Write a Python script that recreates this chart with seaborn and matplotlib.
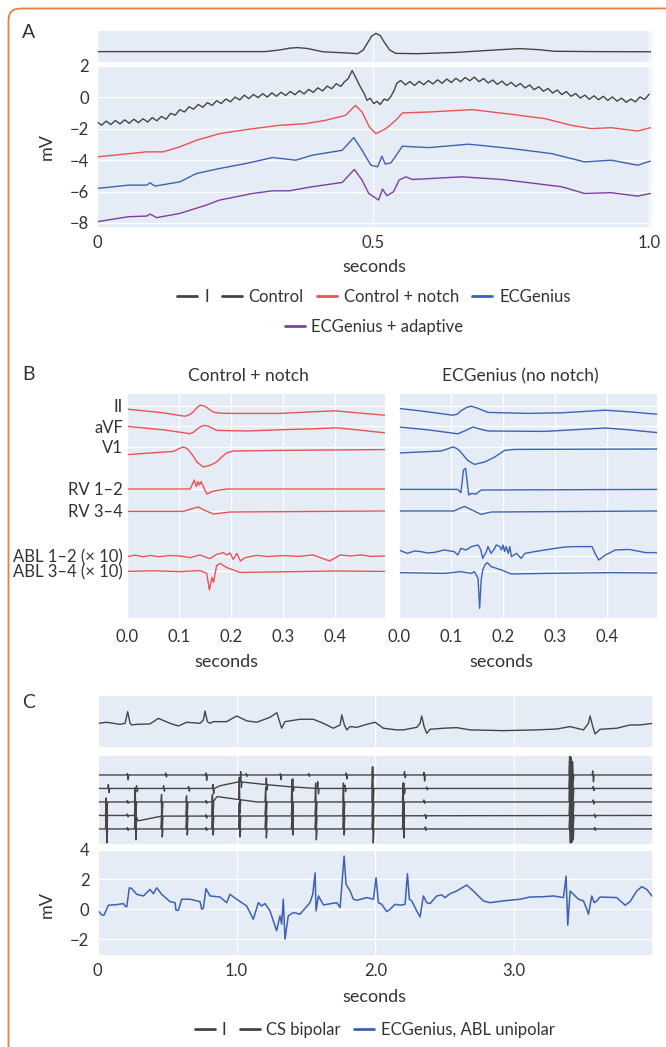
import numpy as np
import matplotlib.pyplot as plt
import seaborn as sns
from matplotlib.lines import Line2D
from matplotlib.patches import FancyBboxPatch

sns.set_theme(style="darkgrid", rc={"axes.facecolor": "#e5ecf6", "grid.color": "white",
                                    "grid.linewidth": 0.9, "xtick.major.pad": 5, "ytick.major.pad": 6})
plt.rcParams['font.family'] = ['Lato', 'DejaVu Sans']
TXT = '#333333'
plt.rcParams['text.color'] = TXT
plt.rcParams['xtick.color'] = TXT
plt.rcParams['ytick.color'] = TXT

GRAY, RED, BLUE, PURPLE = '#454545', '#ec5252', '#3d62b4', '#7d3fa2'

# ---------------- panel A : 1 s, mV ----------------
lead_i_a_t = [0, 0.2, 0.304, 0.33, 0.35, 0.363, 0.38, 0.409, 0.45, 0.472, 0.482, 0.49, 0.497,
              0.505, 0.513, 0.52, 0.53, 0.541, 0.58, 0.65, 0.72, 0.765, 0.8, 0.83, 0.9, 1.005]
lead_i_a_mv = [0, 0, 0, 0.1, 0.22, 0.25, 0.2, -0.01, -0.08, -0.13, 0.1, 0.55, 0.95,
               1.14, 1.0, 0.6, 0.1, -0.11, -0.13, -0.05, 0.1, 0.19, 0.12, 0.02, 0.0, -0.01]

# control has 60 Hz hum, sampled at 120 values / s outside the QRS
CONTROL_FS = 120
control_pre_mv = [-1.55, -1.77, -1.51, -1.73, -1.47, -1.69, -1.43, -1.65, -1.39, -1.61,
                  -1.36, -1.57, -1.29, -1.49, -1.21, -1.39, -1.02, -1.13, -0.78, -0.93,
                  -0.60, -0.75, -0.45, -0.63, -0.33, -0.51, -0.21, -0.39, -0.10, -0.28,
                  0.02, -0.16, 0.14, -0.08, 0.19, -0.02, 0.24, 0.02, 0.29, 0.07,
                  0.33, 0.12, 0.38, 0.17, 0.43, 0.22, 0.51, 0.32, 0.61, 0.41,
                  0.72, 0.55, 0.87, 0.70]
control_qrs_t = [0.447, 0.455, 0.462, 0.468, 0.477, 0.483, 0.489, 0.495, 0.501, 0.507,
                 0.513, 0.52, 0.526, 0.532, 0.538, 0.543]
control_qrs_mv = [0.95, 1.2, 1.71, 1.3, 0.66, 0.3, -0.19, -0.05, -0.4, -0.25,
                  -0.45, -0.1, -0.2, 0.05, 0.44, 0.9]
control_post_start = 66
control_post_mv = [1.08, 0.80, 1.01, 0.76, 1.02, 0.81, 1.07, 0.86, 1.12, 0.90,
                   1.17, 0.95, 1.22, 1.00, 1.27, 1.06, 1.29, 1.00, 1.20, 0.92,
                   1.11, 0.83, 1.04, 0.76, 0.96, 0.69, 0.89, 0.60, 0.79, 0.49,
                   0.68, 0.39, 0.57, 0.28, 0.47, 0.18, 0.37, 0.07, 0.25, -0.04,
                   0.14, -0.12, 0.10, -0.15, 0.07, -0.19, 0.03, -0.24, -0.04, -0.31,
                   -0.11, -0.28, 0.03, -0.13, 0.21]

notch_t = [0, 0.09, 0.12, 0.15, 0.18, 0.222, 0.27, 0.33, 0.378, 0.414, 0.45, 0.468, 0.48,
           0.493, 0.505, 0.523, 0.541, 0.553, 0.601, 0.679, 0.751, 0.811, 0.859, 0.895,
           0.931, 0.979, 1.002]
notch_mv = [-3.79, -3.47, -3.47, -3.15, -2.73, -2.31, -2.05, -1.78, -1.67, -1.46, -1.14,
            -0.51, -0.93, -1.88, -2.31, -1.99, -1.46, -0.99, -0.93, -0.78, -1.08, -1.35,
            -1.78, -1.99, -1.93, -2.14, -1.93]

ecg_t = [0, 0.057, 0.09, 0.096, 0.105, 0.15, 0.18, 0.222, 0.27, 0.318, 0.36, 0.39, 0.444,
         0.465, 0.48, 0.496, 0.508, 0.516, 0.522, 0.532, 0.538, 0.553, 0.601, 0.673, 0.751,
         0.823, 0.883, 0.931, 0.979, 1.002]
ecg_mv = [-5.8, -5.59, -5.59, -5.44, -5.65, -5.38, -4.85, -4.53, -4.21, -3.83, -4.0, -3.68,
          -3.37, -2.56, -3.37, -4.32, -4.42, -3.75, -4.25, -4.17, -3.89, -3.11, -3.2, -2.98,
          -3.26, -3.58, -4.11, -4.0, -4.32, -4.06]

adapt_t = [0, 0.057, 0.09, 0.096, 0.108, 0.15, 0.198, 0.222, 0.282, 0.318, 0.348, 0.39,
           0.444, 0.466, 0.48, 0.492, 0.51, 0.517, 0.525, 0.537, 0.547, 0.559, 0.571, 0.661,
           0.733, 0.769, 0.841, 0.883, 0.931, 0.979, 1.002]
adapt_mv = [-7.92, -7.6, -7.56, -7.43, -7.66, -7.39, -6.86, -6.54, -6.12, -5.95, -5.95,
            -5.69, -5.42, -4.59, -5.27, -6.12, -6.54, -5.84, -6.26, -6.01, -5.27, -5.06,
            -5.23, -5.06, -5.23, -5.38, -5.69, -6.12, -6.07, -6.29, -6.12]

a_names = ['I', 'Control', 'Control + notch', 'ECGenius', 'ECGenius + adaptive']
a_colors = [GRAY, GRAY, RED, BLUE, PURPLE]

# ---------------- panel B : 0.5 s, stacked channels ----------------
b_channels = ['II', 'aVF', 'V1', 'RV 1–2', 'RV 3–4', 'ABL 1–2 (× 10)', 'ABL 3–4 (× 10)']
b_offsets = [-0.64, -1.67, -2.7, -4.8, -5.9, -8.15, -8.9]

red_ii_t = [0, 0.069, 0.1, 0.111, 0.12, 0.127, 0.134, 0.14, 0.147, 0.153, 0.16, 0.166, 0.18,
            0.198, 0.294, 0.358, 0.4, 0.442, 0.496]
red_ii = [-0.17, -0.35, -0.48, -0.52, -0.45, -0.3, -0.1, 0.03, 0.0, -0.08, -0.22, -0.32, -0.37,
          -0.38, -0.38, -0.3, -0.25, -0.35, -0.47]
red_avf_t = [0, 0.069, 0.112, 0.12, 0.127, 0.133, 0.14, 0.148, 0.155, 0.162, 0.172, 0.23,
             0.294, 0.358, 0.403, 0.442, 0.496]
red_avf = [0, -0.17, -0.33, -0.37, -0.3, -0.17, -0.03, 0.05, 0.02, -0.07, -0.2, -0.23,
           -0.17, -0.12, -0.07, -0.17, -0.32]
red_v1_t = [0, 0.089, 0.1, 0.108, 0.115, 0.121, 0.128, 0.134, 0.146, 0.159, 0.172, 0.182,
            0.191, 0.204, 0.294, 0.496]
red_v1 = [-0.38, -0.22, -0.08, 0, -0.08, -0.25, -0.5, -0.75, -1.0, -0.92, -0.75, -0.5,
          -0.3, -0.2, -0.17, -0.13]
red_rv12_t = [0, 0.121, 0.129, 0.133, 0.136, 0.139, 0.142, 0.153, 0.166, 0.191, 0.496]
red_rv12 = [0, 0, 0.45, 0.12, 0.37, 0.2, 0.37, -0.25, -0.1, 0, 0]
red_rv34_t = [0, 0.108, 0.125, 0.137, 0.15, 0.166, 0.198, 0.496]
red_rv34 = [-0.02, -0.02, 0.12, 0.2, 0.02, -0.15, -0.05, 0]
red_abl12_t = [0, 0.015, 0.03, 0.045, 0.06, 0.08, 0.101, 0.121, 0.14, 0.159, 0.172, 0.185,
               0.191, 0.198, 0.204, 0.211, 0.218, 0.227, 0.249, 0.27, 0.3, 0.33, 0.358,
               0.39, 0.41, 0.43, 0.45, 0.47, 0.496]
red_abl12 = [-0.03, 0.04, -0.04, 0.03, -0.04, 0.02, 0, -0.08, 0.05, -0.13, 0.08, 0.17,
             0.05, 0.15, -0.17, 0.13, -0.25, -0.08, 0.03, -0.03, 0.02, -0.02, 0.05,
             -0.25, 0.05, 0.0, 0.05, -0.02, 0]
red_abl34_t = [0, 0.05, 0.101, 0.14, 0.153, 0.158, 0.163, 0.166, 0.172, 0.179, 0.191, 0.217,
               0.3, 0.4, 0.496]
red_abl34 = [-0.02, 0.01, -0.03, 0.02, -0.12, -0.95, -0.32, -0.57, 0.27, 0.38, 0.18, -0.07,
             -0.04, 0.0, -0.02]

blue_ii_t = [0, 0.055, 0.103, 0.112, 0.119, 0.13, 0.139, 0.152, 0.171, 0.248, 0.313, 0.397,
             0.442, 0.5]
blue_ii = [-0.13, -0.3, -0.47, -0.42, -0.25, -0.08, -0.02, -0.13, -0.33, -0.38, -0.35, -0.22,
           -0.3, -0.43]
blue_avf_t = [0, 0.055, 0.113, 0.126, 0.142, 0.158, 0.171, 0.281, 0.397, 0.442, 0.5]
blue_avf = [-0.03, -0.17, -0.37, -0.23, -0.03, -0.15, -0.23, -0.25, -0.08, -0.17, -0.32]
blue_v1_t = [0, 0.081, 0.095, 0.103, 0.11, 0.116, 0.124, 0.132, 0.145, 0.165, 0.184, 0.203,
             0.223, 0.5]
blue_v1 = [-0.3, -0.2, -0.08, 0, -0.06, -0.17, -0.42, -0.67, -0.87, -0.75, -0.5, -0.17,
           -0.12, -0.1]
blue_rv12_t = [0, 0.113, 0.119, 0.124, 0.128, 0.13, 0.134, 0.139, 0.148, 0.158, 0.5]
blue_rv12 = [-0.02, -0.02, -0.18, 0.95, 1.03, 0.62, -0.3, -0.22, -0.25, -0.05, -0.02]
blue_rv34_t = [0, 0.106, 0.118, 0.126, 0.142, 0.158, 0.177, 0.5]
blue_rv34 = [0, 0, 0.15, 0.23, 0.03, -0.17, -0.05, 0]
blue_abl12_t = [0, 0.016, 0.03, 0.042, 0.055, 0.068, 0.087, 0.106, 0.113, 0.119, 0.129, 0.139,
                0.152, 0.157, 0.161, 0.168, 0.171, 0.177, 0.184, 0.187, 0.194, 0.197, 0.2,
                0.203, 0.206, 0.21, 0.213, 0.216, 0.226, 0.235, 0.242, 0.261, 0.28, 0.3,
                0.32, 0.339, 0.371, 0.377, 0.384, 0.397, 0.416, 0.442, 0.474, 0.5]
blue_abl12 = [0.3, 0.13, 0.25, 0.22, 0.15, 0.18, 0.3, 0.22, 0.05, 0.38, 0.3, 0.47,
              0.55, 0.33, -0.12, 0.22, 0.47, 0.13, 0.38, 0.55, 0.47, 0.3, 0.55,
              0.22, 0.47, 0.13, 0.47, -0.03, 0.13, -0.12, 0.13, 0.22, 0.3, 0.38,
              0.45, 0.47, 0.47, 0.13, -0.2, 0.05, 0.3, 0.33, 0.17, 0.17]
blue_abl34_t = [0, 0.087, 0.119, 0.139, 0.145, 0.152, 0.155, 0.158, 0.161, 0.165, 0.17,
                0.177, 0.197, 0.216, 0.281, 0.41, 0.5]
blue_abl34 = [-0.08, -0.12, -0.03, -0.12, -0.03, -0.37, -1.87, -0.45, 0.05, 0.3, 0.42,
              0.22, 0.05, -0.15, -0.12, -0.08, -0.1]

red_traces = [(red_ii_t, red_ii), (red_avf_t, red_avf), (red_v1_t, red_v1),
              (red_rv12_t, red_rv12), (red_rv34_t, red_rv34),
              (red_abl12_t, red_abl12), (red_abl34_t, red_abl34)]
blue_traces = [(blue_ii_t, blue_ii), (blue_avf_t, blue_avf), (blue_v1_t, blue_v1),
               (blue_rv12_t, blue_rv12), (blue_rv34_t, blue_rv34),
               (blue_abl12_t, blue_abl12), (blue_abl34_t, blue_abl34)]

# ---------------- panel C : 4 s ----------------
lead_i_c_t = [0.005, 0.065, 0.161, 0.197, 0.216, 0.233, 0.245, 0.281, 0.377, 0.437, 0.521,
              0.581, 0.641, 0.737, 0.761, 0.773, 0.79, 0.809, 0.833, 0.929, 1.001, 1.074,
              1.146, 1.241, 1.29, 1.301, 1.325, 1.349, 1.457, 1.553, 1.625, 1.697, 1.746,
              1.758, 1.777, 1.794, 1.818, 1.866, 1.938, 1.998, 2.058, 2.154, 2.202, 2.298,
              2.322, 2.334, 2.351, 2.37, 2.394, 2.49, 2.586, 2.682, 2.922, 3.163, 3.307,
              3.403, 3.451, 3.499, 3.535, 3.547, 3.566, 3.583, 3.619, 3.739, 3.835, 3.907,
              3.999]
lead_i_c_mv = [0, 0.07, -0.07, 0, 0.78, 0, -0.11, -0.07, -0.04, 0.33, 0, -0.18, 0.07, 0,
               0.22, 0.82, 0.11, 0, 0.11, 0.11, 0.49, 0.16, 0.07, 0.4, 0.71, 0.4, -0.33,
               0.11, 0.27, 0.27, 0, -0.33, -0.11, 0.56, -0.11, -0.44, -0.22, -0.27, -0.07,
               0.07, -0.33, -0.44, -0.44, -0.27, 0, 0.49, -0.22, -0.67, -0.4, -0.33,
               -0.29, -0.44, -0.49, -0.44, -0.38, -0.22, -0.33, -0.44, 0, 0.49, -0.22,
               -0.71, -0.4, -0.33, -0.11, -0.11, 0]

# CS bipolar: deflections as (time, peak above, trough below) per channel
cs_offsets = [0, -1, -2, -3, -4]
cs1_events = [(0.214, 0.1, -0.35), (0.49, 0.15, -0.15), (0.78, 0.15, -0.4), (1.07, 0.1, -0.1),
              (1.316, 0.1, -0.35), (1.52, 0.1, -0.1), (1.79, 0.15, -0.3), (1.98, 0.6, -0.2),
              (2.21, 0.25, -0.2), (2.35, 0.2, -0.45), (3.40, 1.5, -0.6), (3.41, 1.3, -0.8),
              (3.42, 1.0, -0.5), (3.566, 0.3, -0.5)]
cs2_events = [(0.077, 0.3, -0.3), (0.28, 0.2, -0.25), (0.475, 0.2, -0.2), (0.655, 0.15, -0.2),
              (0.83, 0.3, -0.4), (1.03, 0.75, -0.4), (1.215, 0.5, -0.4), (1.405, 0.6, -0.3),
              (1.585, 0.5, -0.4), (1.78, 0.25, -0.25), (1.98, 1.0, -1.0), (2.205, 0.4, -0.4),
              (2.37, 0.1, -0.1), (3.40, 1.0, -1.0), (3.41, 1.0, -1.0), (3.42, 0.8, -0.8),
              (3.57, 0.15, -0.15)]
cs3_events = [(0.061, 0.3, -1.0), (0.214, 0.1, -0.1), (0.27, 1.05, -1.0), (0.46, 0.55, -1.0),
              (0.64, 0.45, -1.0), (0.78, 0.1, -0.1), (0.826, 0.55, -1.0), (1.02, 1.65, -1.0),
              (1.21, 1.1, -1.0), (1.40, 1.65, -1.0), (1.57, 1.4, -1.0), (1.77, 1.4, -1.0),
              (1.98, 2.6, -1.0), (2.20, 1.4, -1.0), (2.35, 0.15, -0.1), (3.40, 3.5, -1.0),
              (3.41, 3.0, -1.0), (3.42, 2.0, -1.0), (3.57, 0.15, -0.15)]
cs4_events = [(0.061, 1.0, -1.0), (0.214, 0.1, -0.1), (0.27, 1.0, -1.0), (0.46, 1.0, -1.0),
              (0.64, 1.0, -1.0), (0.78, 0.1, -0.15), (0.826, 1.0, -1.0), (1.02, 1.0, -1.0),
              (1.21, 1.0, -1.0), (1.40, 1.0, -1.0), (1.57, 1.0, -1.0), (1.77, 1.0, -1.0),
              (1.98, 1.0, -1.0), (2.20, 1.0, -1.0), (2.36, 0.1, -0.2), (3.40, 1.0, -1.0),
              (3.41, 1.0, -1.0), (3.42, 1.0, -1.0), (3.58, 0.1, -0.15)]
cs5_events = [(0.061, 1.0, -1.04), (0.214, 0.1, -0.1), (0.27, 1.0, -0.8), (0.46, 1.0, -0.6),
              (0.64, 1.0, -0.45), (0.78, 0.1, -0.1), (0.826, 1.0, -0.45), (1.02, 1.0, -0.6),
              (1.21, 1.0, -0.67), (1.40, 1.0, -0.45), (1.57, 1.0, -0.8), (1.77, 1.0, -0.45),
              (1.98, 1.0, -1.04), (2.20, 1.0, -0.67), (2.36, 0.15, -0.1), (3.40, 1.0, -1.04),
              (3.41, 1.0, -1.0), (3.42, 1.0, -0.8), (3.58, 0.1, -0.1)]
cs_events = [cs1_events, cs2_events, cs3_events, cs4_events, cs5_events]
cs_drift_t = [[0, 4.0], [0, 0.84, 0.88, 1.02, 1.2, 1.39, 1.58, 4.0],
              [0, 0.83, 0.86, 1.0, 1.15, 4.0], [0, 0.275, 0.29, 0.46, 4.0], [0, 4.0]]
cs_drift_v = [[0, 0], [0, 0, 0.2, 0.5, 0.3, 0.12, 0, 0],
              [0, 0, 0.4, 0.2, 0, 0], [0, 0, -0.4, -0.05, 0], [0, 0]]

abl_uni_t = [0.005, 0.029, 0.045, 0.077, 0.137, 0.185, 0.197, 0.209, 0.228, 0.245, 0.281,
             0.329, 0.377, 0.401, 0.425, 0.461, 0.521, 0.557, 0.564, 0.581, 0.605, 0.665,
             0.737, 0.749, 0.761, 0.78, 0.809, 0.881, 0.929, 0.953, 1.001, 1.073, 1.121,
             1.157, 1.181, 1.205, 1.241, 1.265, 1.289, 1.313, 1.325, 1.337, 1.349, 1.373,
             1.409, 1.457, 1.529, 1.549, 1.566, 1.573, 1.59, 1.626, 1.722, 1.746, 1.775,
             1.789, 1.818, 1.842, 1.866, 1.938, 1.986, 2.005, 2.022, 2.046, 2.082, 2.106,
             2.142, 2.178, 2.214, 2.231, 2.245, 2.262, 2.298, 2.322, 2.346, 2.37, 2.394,
             2.442, 2.478, 2.502, 2.538, 2.586, 2.658, 2.706, 2.778, 2.826, 2.922, 3.042,
             3.114, 3.211, 3.283, 3.355, 3.374, 3.386, 3.403, 3.427, 3.463, 3.499, 3.523,
             3.535, 3.559, 3.576, 3.595, 3.619, 3.739, 3.799, 3.835, 3.883, 3.919, 3.955,
             3.999]
abl_uni_mv = [-0.11, -0.38, -0.4, 0.27, 0.31, 0.38, 0.22, 0.16, 1.44, 1.38, 1.0, 0.89, 1.33,
              1.04, 1.44, 1.0, 0.51, 0.44, -0.07, -0.07, 0.67, 0.67, 0.51, 0, 0.07, 1.38,
              0.89, 0.82, 0.44, 1.0, 0.67, 0.22, -0.67, 0.44, 0.22, 0.38, -0.11, -0.78,
              -1.44, -0.44, -1.0, 0.67, -2.0, -0.44, -0.22, -0.33, 0.44, 1.0, 2.44, -0.11,
              0.89, 0.29, 0.44, 0.11, 3.56, 1.67, 1.22, 0.67, 0.6, 0.78, 0.67, 2.11, 0.44,
              0.33, -0.16, 0, 0.33, 0.27, 0.33, 2.38, 0.67, 0.56, -0.11, -0.51, 0.89, 0.44,
              0.38, 0.89, 0.96, 0.78, 1.04, 1.22, 1.62, 1.22, 0.56, 0.44, 0.56, 0.67, 0.82,
              0.84, 0.89, 0.78, 2.22, -1.07, 1.22, 1.0, 0.67, 0.56, 0, -0.33, 0.89, 0.44,
              0.56, 0.82, 0.78, 0.27, 0.51, 1.22, 1.51, 1.33, 0.82]

c_names = ['I', 'CS bipolar', 'ECGenius, ABL unipolar']
c_colors = [GRAY, GRAY, BLUE]


def draw(ax, t, v, color, lw=1.0, offset=0.0):
    sns.lineplot(x=np.asarray(t, float), y=np.asarray(v, float) + offset, ax=ax, color=color,
                 linewidth=lw, estimator=None, sort=False, legend=False)


def spiky(events, drift_t, drift_v):
    t, v = list(drift_t), list(drift_v)
    for te, hi, lo in events:
        for dt, amp in ((-0.005, 0.0), (0.0, hi), (0.005, lo), (0.01, 0.0)):
            t.append(te + dt)
            v.append(np.interp(te + dt, drift_t, drift_v) + amp)
    order = np.argsort(t, kind='stable')
    return np.array(t)[order], np.array(v)[order]


def px_axes(fig, x0, y0, x1, y1):
    W, H = 666, 1047
    return fig.add_axes([x0 / W, 1 - y1 / H, (x1 - x0) / W, (y1 - y0) / H])


def clean(ax):
    ax.set_xlabel('')
    ax.set_ylabel('')
    ax.tick_params(labelsize=12, length=0)


fig = plt.figure(figsize=(6.66, 10.47), dpi=100)

# ---- A ----
ax_a1 = px_axes(fig, 97, 30, 652, 62.5)
ax_a2 = px_axes(fig, 97, 66, 652, 228)
draw(ax_a1, lead_i_a_t, lead_i_a_mv, GRAY)
pre_t = np.arange(len(control_pre_mv)) / CONTROL_FS
post_t = (control_post_start + np.arange(len(control_post_mv))) / CONTROL_FS
draw(ax_a2, np.concatenate([pre_t, control_qrs_t, post_t]),
     np.concatenate([control_pre_mv, control_qrs_mv, control_post_mv]), GRAY)
draw(ax_a2, notch_t, notch_mv, RED)
draw(ax_a2, ecg_t, ecg_mv, BLUE)
draw(ax_a2, adapt_t, adapt_mv, PURPLE)
for ax in (ax_a1, ax_a2):
    clean(ax)
    ax.set_xlim(0, 1.005)
    ax.set_xticks([0, 0.5, 1.0])
ax_a1.set_ylim(-0.68, 1.35)
ax_a1.set_yticks([])
ax_a1.set_xticklabels([])
ax_a2.set_ylim(-8.32, 2.0)
ax_a2.set_yticks([-8, -6, -4, -2, 0, 2])
ax_a2.set_xticklabels(['0', '0.5', '1.0'])
fig.text(47 / 666, 1 - 147 / 1047, 'mV', rotation=90, fontsize=13, ha='center', va='center')
fig.text(374 / 666, 1 - 267 / 1047, 'seconds', fontsize=13, ha='center', va='center')

# ---- B ----
ax_bl = px_axes(fig, 127.4, 393, 385.7, 619)
ax_br = px_axes(fig, 399, 393, 658, 619)
for (t, v), off in zip(red_traces, b_offsets):
    draw(ax_bl, t, v, RED, lw=1.0, offset=off)
for (t, v), off in zip(blue_traces, b_offsets):
    draw(ax_br, t, v, BLUE, lw=1.0, offset=off)
for ax in (ax_bl, ax_br):
    clean(ax)
    ax.set_xlim(0, 0.498)
    ax.set_ylim(-11.3, 0)
    ax.set_xticks([0, 0.1, 0.2, 0.3, 0.4])
    ax.set_xticklabels(['0.0', '0.1', '0.2', '0.3', '0.4'])
    ax.set_yticks(b_offsets)
    ax.tick_params(axis='x', pad=7)
ax_bl.set_yticklabels(b_channels)
ax_bl.tick_params(axis='y', pad=3)
ax_br.set_yticklabels([])
fig.text(248 / 666, 1 - 376 / 1047, 'Control + notch', fontsize=12.5, ha='center', va='center')
fig.text(520 / 666, 1 - 376 / 1047, 'ECGenius (no notch)', fontsize=12.5, ha='center', va='center')
fig.text(226 / 666, 1 - 662 / 1047, 'seconds', fontsize=13, ha='center', va='center')
fig.text(501 / 666, 1 - 662 / 1047, 'seconds', fontsize=13, ha='center', va='center')

# ---- C ----
ax_c1 = px_axes(fig, 97.7, 695, 653, 748.3)
ax_c2 = px_axes(fig, 97.7, 755, 653, 845)
ax_c3 = px_axes(fig, 97.7, 849.5, 653, 956)
draw(ax_c1, lead_i_c_t, lead_i_c_mv, GRAY)
for ev, dt, dv, off in zip(cs_events, cs_drift_t, cs_drift_v, cs_offsets):
    tt, vv = spiky(ev, dt, dv)
    draw(ax_c2, tt, vv, GRAY, lw=1.0, offset=off)
draw(ax_c3, abl_uni_t, abl_uni_mv, BLUE, lw=1.1)
for ax in (ax_c1, ax_c2, ax_c3):
    clean(ax)
    ax.set_xlim(0, 4.0)
    ax.set_xticks([0, 1, 2, 3])
for ax in (ax_c1, ax_c2):
    ax.set_xticklabels([])
    ax.set_yticks([])
ax_c1.set_ylim(-1.67, 1.89)
ax_c2.set_ylim(-5.19, 1.48)
ax_c3.set_ylim(-3.13, 4.0)
ax_c3.set_yticks([-2, 0, 2, 4])
ax_c3.set_xticklabels(['0', '1.0', '2.0', '3.0'])
fig.text(47 / 666, 1 - 905 / 1047, 'mV', rotation=90, fontsize=13, ha='center', va='center')
fig.text(374 / 666, 1 - 997 / 1047, 'seconds', fontsize=13, ha='center', va='center')

# ---- legends ----
def handles(names, colors):
    return [Line2D([], [], color=c, lw=2.0, label=n) for n, c in zip(names, colors)]

leg_kw = dict(loc='center', frameon=False, fontsize=12, handlelength=1.2,
              handletextpad=0.4, columnspacing=0.8, borderpad=0)
ha = handles(a_names, a_colors)
fig.legend(handles=ha[:4], ncol=4, bbox_to_anchor=(374 / 666, 1 - 297 / 1047), **leg_kw)
fig.legend(handles=ha[4:], ncol=1, bbox_to_anchor=(374 / 666, 1 - 327 / 1047), **leg_kw)
fig.legend(handles=handles(c_names, c_colors), ncol=3,
           bbox_to_anchor=(375 / 666, 1 - 1030 / 1047), **leg_kw)

# ---- panel letters and frame ----
for letter, y in (('A', 32), ('B', 375), ('C', 703)):
    fig.text(22 / 666, 1 - y / 1047, letter, fontsize=14, ha='left', va='center')
fig.add_artist(FancyBboxPatch((0.085, -1.0), 8.0, 11.385, boxstyle='round,pad=0,rounding_size=0.12',
                              transform=fig.dpi_scale_trans, fill=False, ec='#e8803f', lw=1.3))

fig.savefig('out.png', dpi=100)
